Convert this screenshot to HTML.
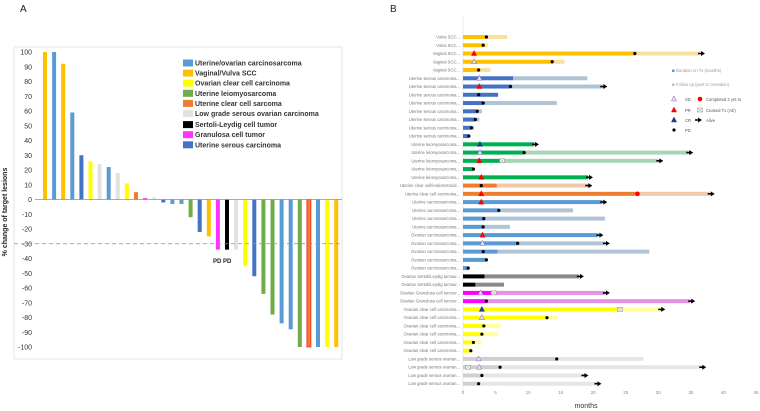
<!DOCTYPE html>
<html><head><meta charset="utf-8">
<style>
html,body{margin:0;padding:0;background:#fff;}
svg{display:block;font-family:"Liberation Sans",sans-serif;}
</style></head>
<body>
<svg id="fig" width="760" height="411" viewBox="0 0 760 411" xmlns="http://www.w3.org/2000/svg">
<text x="20" y="12" font-size="10" fill="#222">A</text>
<text x="390" y="12" font-size="10" fill="#222">B</text>
<rect x="14" y="47" width="328" height="312" fill="#fff" stroke="#e4e4e4" stroke-width="1"/>
<text transform="translate(7,212) rotate(-90)" text-anchor="middle" font-size="7" font-weight="bold" fill="#222">% change of target lesions</text>
<g id="ga"></g>
<g id="gb"></g>
</svg>
<script>
// ---------- Panel A data ----------
const waterfallValues = [100,100,92,59,30,26,24,22,18,11,5,1,1.5,-2,-3,-3,-12,-22,-25,-34,-34,-34,-45,-52,-64,-78,-84,-88,-100,-100,-100,-100,-100];
const waterfallTypes = ['vv','uo','vv','uo','us','oc','lg','uo','lg','oc','uc','gc','lg','us','uo','uo','ul','us','vv','gc','sl','lg','oc','us','ul','ul','uo','uo','ul','uc','uo','oc','vv'];
const yTicks = [100,90,80,70,60,50,40,30,20,10,0,-10,-20,-30,-40,-50,-60,-70,-80,-90,-100];
const legendKeys = ['uo','vv','oc','ul','uc','lg','sl','gc','us'];
const legendLabels = ['Uterine/ovarian carcinosarcoma','Vaginal/Vulva SCC','Ovarian  clear cell carcinoma','Uterine leiomyosarcoma','Uterine clear cell sarcoma','Low grade  serous ovarian carcinoma','Sertoli-Leydig cell tumor','Granulosa cell tumor','Uterine serous carcinoma'];
const typeColors = {uo:'#5B9BD5',vv:'#FFC000',oc:'#FFFF00',ul:'#70AD47',uc:'#ED7D31',lg:'#E2E2E2',sl:'#000000',gc:'#FF33FF',us:'#4472C4'};

// ---------- Panel B data ----------
const rowLabels = ['Vulva SCC...','Vulva SCC...','Vaginal SCC...','Vaginal SCC...','Vaginal SCC...',
'Uterine serous carcinoma...','Uterine serous carcinoma...','Uterine serous carcinoma...','Uterine serous carcinoma...','Uterine serous carcinoma...','Uterine serous carcinoma...','Uterine serous carcinoma...','Uterine serous carcinoma...',
'Uterine leiomyosarcoma...','Uterine leiomyosarcoma...','Uterine leiomyosarcoma...','Uterine leiomyosarcoma...','Uterine leiomyosarcoma...',
'Uterine clear cell/endometrioid...','Uterine clear cell carcinoma...',
'Uterine carcinosarcoma...','Uterine carcinosarcoma...','Uterine carcinosarcoma...','Uterine carcinosarcoma...',
'Ovarian carcinosarcoma...','Ovarian carcinosarcoma...','Ovarian carcinosarcoma...','Ovarian carcinosarcoma...','Ovarian carcinosarcoma...',
'Ovarian Sertoli/Leydig tumour...','Ovarian Sertoli/Leydig tumour...','Ovarian Granulosa cell tumour...','Ovarian Granulosa cell tumour...',
'Ovarian clear cell carcinoma...','Ovarian clear cell carcinoma...','Ovarian clear cell carcinoma...','Ovarian clear cell carcinoma...','Ovarian clear cell carcinoma...','Ovarian clear cell carcinoma...',
'Low grade serous ovarian...','Low grade serous ovarian...','Low grade serous ovarian...','Low grade serous ovarian...'];
const rowGroups = ['vv','vv','vv','vv','vv','us','us','us','us','us','us','us','us','ul','ul','ul','ul','ul','uc','uc','uo','uo','uo','uo','uo','uo','uo','uo','uo','sl','sl','gc','gc','oc','oc','oc','oc','oc','oc','lg','lg','lg','lg'];
const txMonths = [3.6,3.1,26.5,13.8,2.4, 7.7,7.3,5.4,3.1,2.2,1.9,1.3,0.9, 10.9,9.4,6.0,1.6,19.2, 5.2,26.8, 21.4,5.5,3.2,3.1, 20.8,8.4,5.3,3.6,0.8, 3.3,1.9, 4.9,3.6, 24.1,12.9,3.2,2.9,1.6,1.2, 14.4,5.7,2.9,2.4];
const followMonths = [6.8,3.8,36.4,15.6,4.2, 19.1,21.4,0,14.4,2.9,2.5,1.7,0, 0,34.6,30.0,0,0, 19.1,37.9, 0,16.9,21.8,7.2, 0,21.8,28.6,0,0, 17.8,6.3, 21.8,34.9, 30.3,14.6,5.8,5.4,2.8,0, 27.7,36.6,18.5,20.5];
const alive = [0,0,1,0,0, 0,1,0,0,0,0,0,0, 1,1,1,0,1, 1,1, 1,0,0,0, 1,1,0,0,0, 1,0, 1,1, 1,0,0,0,0,0, 0,1,1,1];
const responseType = ['','','PR','SD','', 'SD','PR','','','','','','', 'CR','SD','PR','','PR', '','PR', 'PR','','','', 'PR','SD','','','', '','', 'SD','', 'CR','SD','','','','', 'SD','SD','',''];
const responseMonth = [0,0,1.7,1.7,0, 2.5,2.5,0,0,0,0,0,0, 2.6,2.6,2.5,0,2.8, 0,2.8, 2.8,0,0,0, 3.0,3.0,0,0,0, 0,0, 2.7,0, 2.9,2.9,0,0,0,0, 2.4,2.5,0,0];
const pdMonth = [3.6,3.1,26.4,13.7,2.4, 0,7.3,2.4,3.1,2.2,1.9,1.3,0.9, 0,9.4,0,1.6,0, 2.8,0, 0,5.5,3.2,3.1, 0,8.4,3.1,3.6,0.8, 0,0, 0,3.6, 0,12.9,3.2,2.9,1.6,1.2, 14.4,5.7,2.9,2.4];
const ceasedMonth = [0,0,0,0,0, 0,0,0,0,0,0,0,0, 0,0,6.0,0,0, 0,0, 0,0,0,0, 0,0,0,0,0, 0,0, 4.7,0, 24.1,0,0,0,0,0, 0,0.8,0,0];
const completedMonth = [0,0,0,0,0, 0,0,0,0,0,0,0,0, 0,0,0,0,0, 0,26.8, 0,0,0,0, 0,0,0,0,0, 0,0, 0,0, 0,0,0,0,0,0, 0,0,0,0];
const xTicks = [0,5,10,15,20,25,30,35,40,45];
const fuColors = {vv:'#F7E2A0',us:'#AFC3D5',ul:'#A8D5B5',uc:'#EFC9A8',uo:'#B0C4D6',sl:'#8A8A8A',gc:'#E592E5',oc:'#FFFF9E',lg:'#E6E6E6'};
const txColors = {vv:'#FFC000',us:'#4472C4',ul:'#00B050',uc:'#ED7D31',uo:'#5B9BD5',sl:'#000000',gc:'#FF00FF',oc:'#FFFF00',lg:'#D0D0D0'};

const NS='http://www.w3.org/2000/svg';
function mk(parent,tag,attrs,text){const e=document.createElementNS(NS,tag);for(const k in attrs)e.setAttribute(k,attrs[k]);if(text!==undefined)e.textContent=text;parent.appendChild(e);return e;}

// ---------- Panel A ----------
const ga=document.getElementById('ga');
const yA=v=>199.5-v*1.475;
const xA=i=>45+i*9.1;
yTicks.forEach(t=>{
  const e=mk(ga,'text',{x:32,y:yA(t)+2.5,'text-anchor':'end','font-size':7,fill:'#333'},String(t));
  
  
});
waterfallValues.forEach((v,i)=>{
  const c=typeColors[waterfallTypes[i]];
  const y0=yA(0),y1=yA(v);
  const r=mk(ga,'rect',{x:xA(i)-2,y:Math.min(y0,y1),width:4,height:Math.max(0.8,Math.abs(y1-y0)),fill:c,stroke:waterfallTypes[i]==='uc'&&v<-90?'#FF2020':'none','stroke-width':0.8});
  
  
});
let zl=mk(ga,'line',{x1:35,x2:342,y1:yA(0),y2:yA(0),stroke:'#5B9BD5','stroke-width':0.8});


let dl=mk(ga,'line',{x1:14,x2:342,y1:yA(-30),y2:yA(-30),stroke:'#5B9BD5','stroke-width':0.8,'stroke-dasharray':'4,3'});


let pd=mk(ga,'text',{x:213,y:263,'font-size':6,'font-weight':'bold',fill:'#222'},'PD PD');


legendKeys.forEach((k,i)=>{
  const y=63+i*10.1+(i>=6?1:0);
  const g=mk(ga,'g',{});
  
  
  mk(g,'rect',{x:183,y:y-3.5,width:10,height:7,fill:typeColors[k]});
  mk(g,'text',{x:195,y:y+2.5,'font-size':7,'font-weight':'bold',fill:'#333'},legendLabels[i]);
});

// ---------- Panel B ----------
const gb=document.getElementById('gb');
const xB=m=>463+m*6.51;
const yB=i=>37+i*8.255;
let ax=mk(gb,'line',{x1:463,x2:463,y1:16,y2:392,stroke:'#ddd','stroke-width':0.6});


xTicks.forEach(t=>{
  const e=mk(gb,'text',{x:xB(t),y:394,'text-anchor':'middle','font-size':4.5,fill:'#888'},String(t));
  
  
});
let xt=mk(gb,'text',{x:586,y:408,'text-anchor':'middle','font-size':7,fill:'#333'},'months');



function tri(g,x,y,fill,stroke){mk(g,'polygon',{points:`${x},${y-3} ${x-2.6},${y+2} ${x+2.6},${y+2}`,fill:fill,stroke:stroke,'stroke-width':0.5});}
function dot(g,x,y,c){mk(g,'circle',{cx:x,cy:y,r:1.6,fill:c});}
function ceased(g,x,y){mk(g,'rect',{x:x-2.5,y:y-2,width:5,height:4,fill:'#fff',stroke:'#888','stroke-width':0.5});mk(g,'path',{d:`M${x-2.5},${y-2}L${x+2.5},${y+2}M${x+2.5},${y-2}L${x-2.5},${y+2}`,stroke:'#888','stroke-width':0.4});}
function arrow(g,x,y){mk(g,'path',{d:`M${x-3},${y-0.8}L${x},${y-0.8}L${x},${y-2.5}L${x+4},${y}L${x},${y+2.5}L${x},${y+0.8}L${x-3},${y+0.8}Z`,fill:'#000'});}

rowLabels.forEach((lab,i)=>{
  const y=yB(i), grp=rowGroups[i];
  const g=mk(gb,'g',{});
  
  
  mk(g,'text',{x:460,y:y+1.5,'text-anchor':'end','font-size':4.2,fill:'#777'},lab);
  const end=Math.max(txMonths[i],followMonths[i]);
  if(followMonths[i]>txMonths[i]) mk(g,'rect',{x:xB(txMonths[i]),y:y-2,width:xB(followMonths[i])-xB(txMonths[i]),height:4,fill:fuColors[grp]});
  mk(g,'rect',{x:463,y:y-2,width:xB(txMonths[i])-463,height:4,fill:txColors[grp]});
  if(alive[i]) arrow(g,xB(end)+1,y);
  if(pdMonth[i]) dot(g,xB(pdMonth[i]),y,'#000');
  if(ceasedMonth[i]) ceased(g,xB(ceasedMonth[i]),y);
  if(completedMonth[i]) mk(g,'circle',{cx:xB(completedMonth[i]),cy:y,r:2.3,fill:'#FF0000'});
  const r=responseType[i];
  if(r==='PR') tri(g,xB(responseMonth[i]),y,'#FF0000','#FF0000');
  if(r==='CR') tri(g,xB(responseMonth[i]),y,'#1F3C88','#1F3C88');
  if(r==='SD') tri(g,xB(responseMonth[i]),y,'#E8DDF5','#7F5FBF');
});

// legend B
const lg=mk(gb,'g',{});


mk(lg,'rect',{x:672,y:69.5,width:2.5,height:2.5,fill:'#5B9BD5'});
mk(lg,'text',{x:676,y:72,'font-size':4.2,fill:'#999'},'Duration on Tx (months)');
mk(lg,'rect',{x:672,y:83.5,width:2.5,height:2.5,fill:'#AFC3D5'});
mk(lg,'text',{x:676,y:86,'font-size':4.2,fill:'#999'},'Follow up (post tx cessation)');
tri(lg,674,99,'#E8DDF5','#7F5FBF'); mk(lg,'text',{x:685,y:101,'font-size':4.2,fill:'#555'},'SD');
tri(lg,674,110,'#FF0000','#FF0000'); mk(lg,'text',{x:685,y:112,'font-size':4.2,fill:'#555'},'PR');
tri(lg,674,120,'#1F3C88','#1F3C88'); mk(lg,'text',{x:685,y:122,'font-size':4.2,fill:'#555'},'CR');
dot(lg,674,130,'#000'); mk(lg,'text',{x:685,y:132,'font-size':4.2,fill:'#555'},'PD');
mk(lg,'circle',{cx:700,cy:99,r:2.3,fill:'#FF0000'}); mk(lg,'text',{x:706,y:101,'font-size':4.2,fill:'#555'},'Completed 2 yrs tx');
ceased(lg,700,110); mk(lg,'text',{x:706,y:112,'font-size':4.2,fill:'#555'},'Ceased Tx (AE)');
arrow(lg,698,120); mk(lg,'text',{x:706,y:122,'font-size':4.2,fill:'#555'},'Alive');
</script>
</body></html>
